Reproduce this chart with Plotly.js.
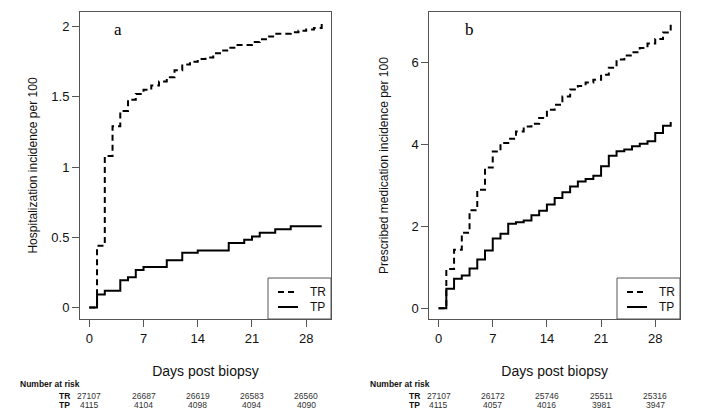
<!DOCTYPE html>
<html>
<head>
<meta charset="utf-8">
<script src="https://cdn.plot.ly/plotly-3.0.1.min.js"></script>
<style>html,body{margin:0;padding:0;background:#fff;}#chart{width:701px;height:420px;}</style>
</head>
<body>
<div id="chart"></div>
<script>
// ---- data ----
const days = [0,1,2,3,4,5,6,7,8,9,10,11,12,13,14,15,16,17,18,19,20,21,22,23,24,25,26,27,28,29,30];
const hospTR = [0,0.44,1.08,1.29,1.40,1.48,1.52,1.55,1.58,1.61,1.64,1.69,1.73,1.75,1.77,1.78,1.81,1.83,1.85,1.87,1.87,1.89,1.91,1.93,1.95,1.95,1.96,1.97,1.98,1.99,2.02];
const hospTP = [0,0.094,0.12,0.12,0.194,0.217,0.267,0.289,0.289,0.289,0.338,0.338,0.39,0.39,0.407,0.407,0.407,0.407,0.46,0.46,0.483,0.506,0.533,0.533,0.558,0.558,0.58,0.58,0.58,0.58,0.58];
const medTR = [0,0.96,1.43,1.84,2.39,2.89,3.43,3.82,4.03,4.13,4.31,4.43,4.50,4.64,4.84,4.96,5.16,5.33,5.42,5.50,5.57,5.69,5.86,6.06,6.16,6.24,6.34,6.45,6.56,6.72,6.91];
const medTP = [0,0.48,0.72,0.80,0.97,1.19,1.41,1.70,1.82,2.06,2.10,2.14,2.27,2.38,2.53,2.69,2.83,2.97,3.09,3.15,3.23,3.46,3.72,3.83,3.87,3.95,4.01,4.07,4.27,4.45,4.54];
const seriesNames = ["TR", "TP"];
const riskDays = [0,7,14,21,28];
const riskHospTR = ["27107","26687","26619","26583","26560"];
const riskHospTP = ["4115","4104","4098","4094","4090"];
const riskMedTR = ["27107","26172","25746","25511","25316"];
const riskMedTP = ["4115","4057","4016","3981","3947"];
const xTicks = [0,7,14,21,28];
const yTicksA = [0,0.5,1,1.5,2];
const yTicksALabels = ["0","0.5","1","1.5","2"];
const yTicksB = [0,2,4,6];
const yTicksBLabels = ["0","2","4","6"];

const FONT = '"Liberation Sans", Arial, sans-serif';
const axisCol = '#555';
const W = 701, H = 420;
const DASH = '6px,4px';

const traces = [
  {x: days, y: hospTR, name: seriesNames[0], type: 'scatter', mode: 'lines', line: {shape: 'hv', color: '#000', width: 2, dash: DASH}, xaxis: 'x', yaxis: 'y'},
  {x: days, y: hospTP, name: seriesNames[1], type: 'scatter', mode: 'lines', line: {shape: 'hv', color: '#000', width: 2}, xaxis: 'x', yaxis: 'y'},
  {x: days, y: medTR, name: seriesNames[0], type: 'scatter', mode: 'lines', line: {shape: 'hv', color: '#000', width: 2, dash: DASH}, xaxis: 'x2', yaxis: 'y2'},
  {x: days, y: medTP, name: seriesNames[1], type: 'scatter', mode: 'lines', line: {shape: 'hv', color: '#000', width: 2}, xaxis: 'x2', yaxis: 'y2'}
];

function xAxis(domain, anchor) {
  return {domain: domain, anchor: anchor, range: [-1.2, 31.2], tickvals: xTicks, ticktext: xTicks.map(String),
    ticks: 'outside', ticklen: 7, tickcolor: axisCol, showline: true, linecolor: axisCol, linewidth: 1, mirror: true,
    showgrid: false, zeroline: false, tickfont: {family: FONT, size: 13, color: '#111'},
    title: {text: 'Days post biopsy', font: {family: FONT, size: 14, color: '#111'}, standoff: 21}, fixedrange: true};
}
function yAxis(domain, anchor, range, tv, tt, title, standoff) {
  return {domain: domain, anchor: anchor, range: range, tickvals: tv, ticktext: tt,
    ticks: 'outside', ticklen: 7, tickcolor: axisCol, showline: true, linecolor: axisCol, linewidth: 1, mirror: true,
    showgrid: false, zeroline: false, tickfont: {family: FONT, size: 13, color: '#111'},
    title: {text: title, font: {family: FONT, size: 12, color: '#111'}, standoff: standoff}, fixedrange: true};
}

const yDom = [1 - 319/H, 1 - 12/H];
const xDomA = [80/W, 331/W];
const xDomB = [429.3/W, 680/W];

const annotations = [];
const shapes = [];
function addRisk(xref, labelX, startX, trArr, tpArr) {
  annotations.push({xref: 'paper', yref: 'paper', x: startX, y: 1 - 384/H, text: '<b>Number at risk</b>', showarrow: false, xanchor: 'left', yanchor: 'middle', font: {family: FONT, size: 8.5, color: '#111'}});
  annotations.push({xref: 'paper', yref: 'paper', x: labelX, y: 1 - 396/H, text: '<b>' + seriesNames[0] + '</b>', showarrow: false, xanchor: 'right', yanchor: 'middle', font: {family: FONT, size: 8.5, color: '#111'}});
  annotations.push({xref: 'paper', yref: 'paper', x: labelX, y: 1 - 404.5/H, text: '<b>' + seriesNames[1] + '</b>', showarrow: false, xanchor: 'right', yanchor: 'middle', font: {family: FONT, size: 8.5, color: '#111'}});
  riskDays.forEach((d, i) => {
    annotations.push({xref: xref, yref: 'paper', x: d, y: 1 - 396/H, text: trArr[i], showarrow: false, xanchor: 'center', yanchor: 'middle', font: {family: FONT, size: 8.5, color: '#333'}});
    annotations.push({xref: xref, yref: 'paper', x: d, y: 1 - 404.5/H, text: tpArr[i], showarrow: false, xanchor: 'center', yanchor: 'middle', font: {family: FONT, size: 8.5, color: '#333'}});
  });
}
addRisk('x', 72/W, 18/W, riskHospTR, riskHospTP);
addRisk('x2', 422/W, 368/W, riskMedTR, riskMedTP);

// R-style legend box in the bottom-right corner of each panel
function addLegend(rightPx) {
  const bottom = 319, top = 278;
  shapes.push({type: 'rect', xref: 'paper', yref: 'paper', x0: (rightPx - 63)/W, x1: rightPx/W, y0: 1 - bottom/H, y1: 1 - top/H,
    line: {color: axisCol, width: 1}, fillcolor: '#fff', layer: 'above'});
  const rows = [{y: 292, dash: DASH}, {y: 307, dash: 'solid'}];
  rows.forEach((r, i) => {
    shapes.push({type: 'line', xref: 'paper', yref: 'paper', x0: (rightPx - 53)/W, x1: (rightPx - 33)/W, y0: 1 - r.y/H, y1: 1 - r.y/H,
      line: {color: '#000', width: 2, dash: r.dash}, layer: 'above'});
    annotations.push({xref: 'paper', yref: 'paper', x: (rightPx - 22)/W, y: 1 - r.y/H, text: seriesNames[i], showarrow: false,
      xanchor: 'left', yanchor: 'middle', borderpad: 0, font: {family: FONT, size: 12, color: '#111'}});
  });
}
addLegend(331);
addLegend(680);

annotations.push({xref: 'paper', yref: 'paper', x: 118/W, y: 1 - 30/H, text: 'a', showarrow: false, xanchor: 'center', yanchor: 'middle', font: {family: '"Liberation Serif", "Times New Roman", serif', size: 17, color: '#000'}});
annotations.push({xref: 'paper', yref: 'paper', x: 469/W, y: 1 - 30/H, text: 'b', showarrow: false, xanchor: 'center', yanchor: 'middle', font: {family: '"Liberation Serif", "Times New Roman", serif', size: 17, color: '#000'}});

const layout = {
  width: W, height: H,
  margin: {l: 0, r: 0, t: 0, b: 0},
  paper_bgcolor: '#fff', plot_bgcolor: '#fff',
  showlegend: false,
  xaxis: xAxis(xDomA, 'y'),
  yaxis: yAxis(yDom, 'x', [-0.081, 2.104], yTicksA, yTicksALabels, 'Hospitalization incidence per 100', 11),
  xaxis2: xAxis(xDomB, 'y2'),
  yaxis2: yAxis(yDom, 'x2', [-0.26, 7.22], yTicksB, yTicksBLabels, 'Prescribed medication incidence per 100', 20),
  annotations: annotations,
  shapes: shapes
};

Plotly.newPlot('chart', traces, layout, {displayModeBar: false, staticPlot: true});
</script>
</body>
</html>
